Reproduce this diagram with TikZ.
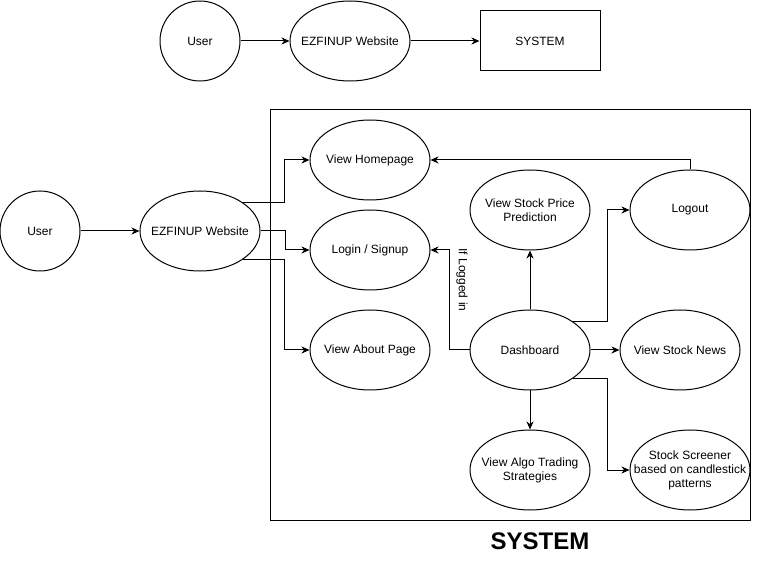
\documentclass[tikz,border=0pt]{standalone}
\usepackage{fontspec}
\setmainfont{Liberation Sans}
\usetikzlibrary{shapes.geometric,arrows.meta}
\begin{document}
\begin{tikzpicture}[x=1pt,y=-1pt,
  every node/.style={font=\fontsize{12}{14}\selectfont},
  uc/.style={draw,ellipse,line width=1pt,minimum width=120pt,minimum height=80pt,inner sep=0pt},
  actor/.style={draw,circle,line width=1pt,minimum size=80pt,inner sep=0pt},
  sysbox/.style={draw,rectangle,line width=1pt,minimum width=120pt,minimum height=60pt,inner sep=0pt},
  arr/.style={draw,line width=1pt,-{Stealth[length=8pt,width=7pt,inset=2.5pt]}}]
\path[use as bounding box,fill=white] (0,0) rectangle (761,561);
% top row
\node[actor] (u1) at (200,41) {User};
\node[uc,label={center:EZFINUP Website}] (w1) at (350,41) {};
\node[sysbox] (s1) at (540,41) {SYSTEM};
\draw[arr] (u1) -- (w1);
\draw[arr] (w1) -- (s1);
% system boundary
\node[draw,line width=1pt,minimum width=480pt,minimum height=410pt,inner sep=0pt] (box) at (510,315) {};
\node[font=\fontsize{24}{28}\selectfont\bfseries] (systitle) at (540,541) {SYSTEM};
% bottom
\node[actor] (u2) at (40,231) {User};
\node[uc,label={center:EZFINUP Website}] (w2) at (200,231) {};
\node[uc,label={center:View Homepage}] (home) at (370,160) {};
\node[uc,label={center:Login / Signup}] (login) at (370,250) {};
\node[uc,label={center:View About Page}] (about) at (370,350) {};
\node[uc,label={[align=center]center:View Stock Price\\Prediction}] (pred) at (530,210) {};
\node[uc,label={center:Logout}] (logout) at (690,210) {};
\node[uc,label={center:Dashboard}] (dash) at (530,350) {};
\node[uc,label={center:View Stock News}] (news) at (680,350) {};
\node[uc,label={[align=center]center:View Algo Trading\\Strategies}] (algo) at (530,470) {};
\node[uc,label={[align=center]center:Stock Screener\\based on candlestick\\patterns}] (screen) at (690,470) {};
% connectors
\draw[arr] (u2) -- (w2);
\draw[arr] (w2.north east) -- ++(42,0) |- (home.west);
\draw[arr] (w2.east) -- ++(25,0) |- (login.west);
\draw[arr] (w2.south east) -- ++(42,0) |- (about.west);
\draw[arr] (logout.north) |- (home.east);
\draw[arr] (dash.west) -- ++(-20,0) |- (login.east);
\node[rotate=-90] (iflog) at (462,280) {If Logged in};
\draw[arr] (dash.north) -- (pred.south);
\draw[arr] (dash.north east) -- ++(35,0) |- (logout.west);
\draw[arr] (dash.east) -- (news.west);
\draw[arr] (dash.south) -- (algo.north);
\draw[arr] (dash.south east) -- ++(35,0) |- (screen.west);
\end{tikzpicture}
\end{document}
